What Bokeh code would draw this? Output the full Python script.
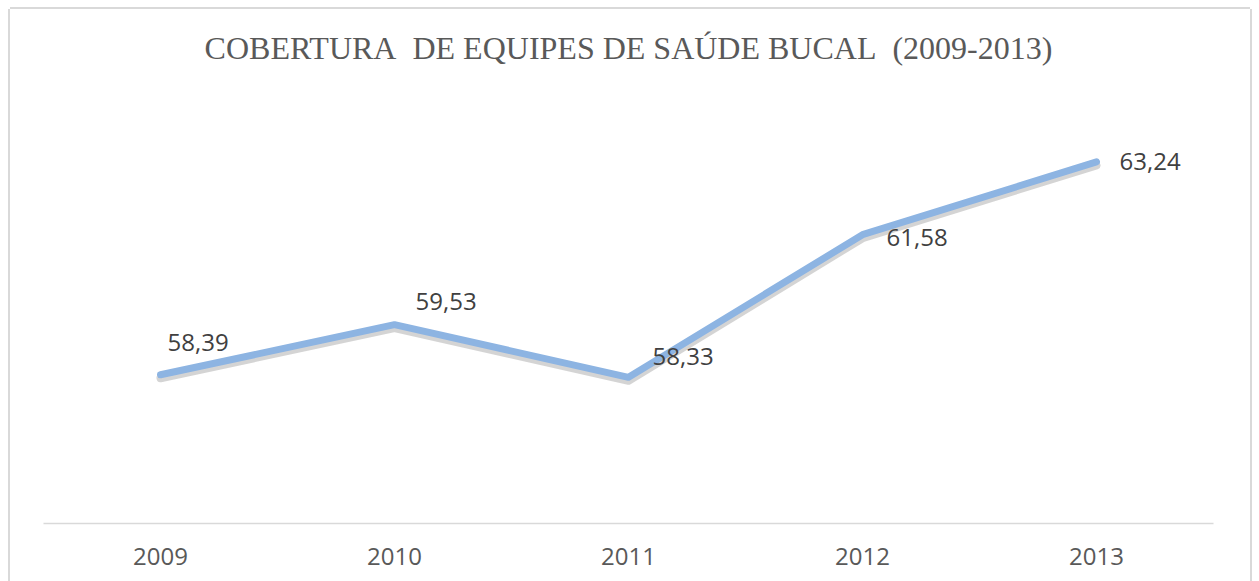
from bokeh.plotting import figure
from bokeh.models import ColumnDataSource, Range1d, Title
from bokeh.core.properties import value
from bokeh.embed import file_html
from bokeh.resources import INLINE

# ---- data ----
years = ["2009", "2010", "2011", "2012", "2013"]
coverage = [58.39, 59.53, 58.33, 61.58, 63.24]
title_text = "COBERTURA\u00a0 DE EQUIPES DE SAÚDE BUCAL\u00a0 (2009-2013)"

# ---- label placement (style) ----
label_dx = [7, 21, 24, 24, 23]
label_dy = [-32, -23, -21, 3, 0]

labels = [f"{v:.2f}".replace(".", ",") for v in coverage]
src = ColumnDataSource(dict(x=years, y=coverage, label=labels, dx=label_dx, dy=label_dy))

y0, y1 = 55, 64
px_per_unit = 395 / (y1 - y0)
shift = 3.5 / px_per_unit

p = figure(
    x_range=years, y_range=Range1d(y0, y1),
    width=1240, height=572,
    output_backend="svg", toolbar_location=None,
    min_border_left=33, min_border_right=37, min_border_top=119, min_border_bottom=58,
)
p.extra_y_ranges = {"shadow": Range1d(y0 + shift, y1 + shift)}

p.styles = {
    "margin-left": "10px",
    "margin-top": "9px",
    "box-shadow": "-2px 0 0 0 #d9d9d9, 2px 0 0 0 #d9d9d9, 0 -2px 0 0 #d9d9d9",
}
p.background_fill_color = "white"
p.border_fill_color = "white"
p.outline_line_color = None
p.xgrid.visible = False
p.ygrid.visible = False
p.yaxis.visible = False

# spacer (inner) + main title (outer)
spacer = Title(text=" ", text_font_size="1px", standoff=55, text_color="white")
p.add_layout(spacer, "above")
main_title = Title(
    text=title_text, align="center", standoff=10,
    text_font="Liberation Serif", text_font_style="normal", text_font_size="32px",
    text_color="#595959",
)
p.add_layout(main_title, "above")

ax = p.xaxis[0]
ax.axis_line_color = "#d9d9d9"
ax.axis_line_width = 1.5
ax.major_tick_line_color = None
ax.minor_tick_line_color = None
ax.major_label_text_font = "Open Sans"
ax.major_label_text_font_size = "24px"
ax.major_label_text_color = "#595959"
ax.major_label_standoff = 18

# shadow
p.line("x", "y", source=src, y_range_name="shadow", line_color="#6f6f6f", line_alpha=0.3,
       line_width=8, line_cap="round", line_join="round")
# main line
p.line("x", "y", source=src, line_color="#8db4e2", line_width=7,
       line_cap="round", line_join="round")

p.text("x", "y", text="label", source=src, x_offset="dx", y_offset="dy",
       text_font=value("Open Sans"), text_font_size="24px", text_color="#404040",
       text_align="left", text_baseline="middle")

open("out.html", "w").write(file_html(p, INLINE))
